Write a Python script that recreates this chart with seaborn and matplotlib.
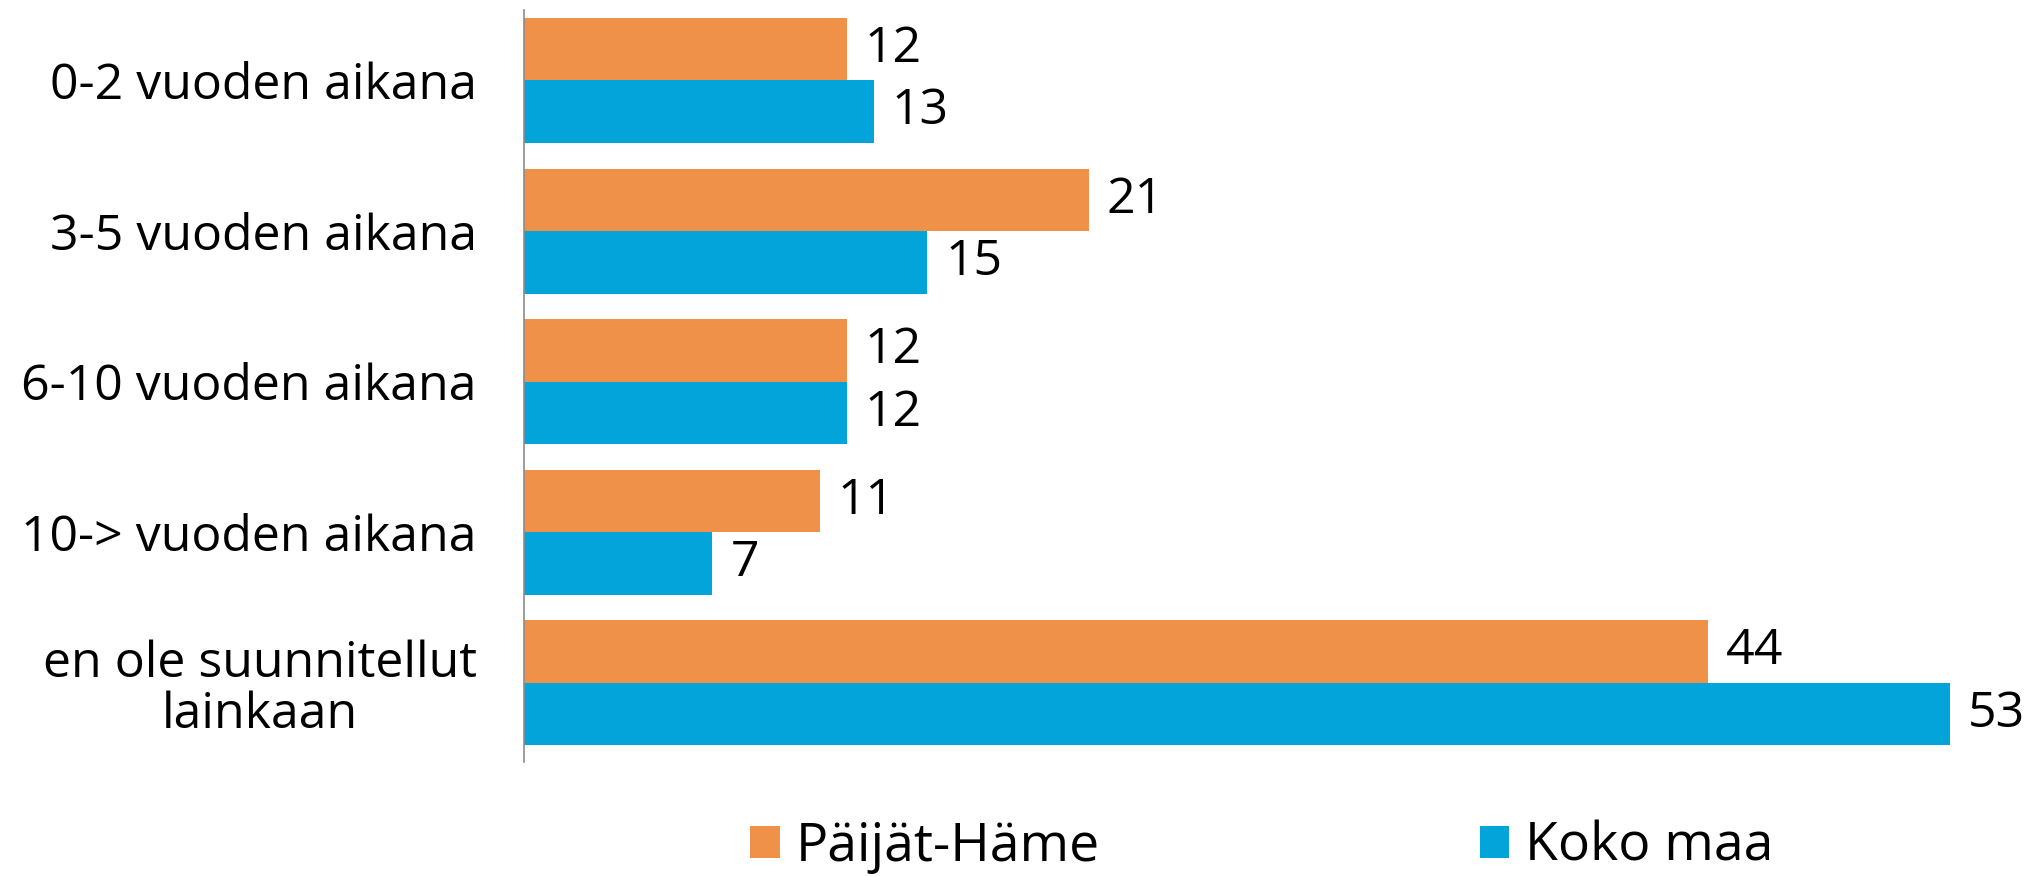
import pandas as pd
import numpy as np
import matplotlib
matplotlib.use("Agg")
import matplotlib.pyplot as plt
import seaborn as sns

# chart data
categories = ["0-2 vuoden aikana", "3-5 vuoden aikana", "6-10 vuoden aikana",
              "10-> vuoden aikana", "en ole suunnitellut\nlainkaan"]
series_names = ["Päijät-Häme", "Koko maa"]
paijat_hame = [12, 21, 12, 11, 44]
koko_maa = [13, 15, 12, 7, 53]

colors = ["#F0914A", "#02A4DA"]

df = pd.DataFrame({
    "category": categories * 2,
    "series": [series_names[0]] * len(categories) + [series_names[1]] * len(categories),
    "value": paijat_hame + koko_maa,
})

sns.set_style("white")
plt.rcParams["font.family"] = ["Open Sans", "DejaVu Sans"]
plt.rcParams["text.color"] = "black"
plt.rcParams["ytick.color"] = "black"

fig = plt.figure(figsize=(20.35, 8.77), dpi=100)
# left edge of axis ~524px, right ~1990px
ax = fig.add_axes([524 / 2035, 1 - 762 / 877, (1990 - 524) / 2035, 752 / 877])

sns.barplot(data=df, y="category", x="value", hue="series", orient="h",
            palette=colors, width=0.83, ax=ax, saturation=1, errorbar=None,
            linewidth=0)

for cont in ax.containers:
    ax.bar_label(cont, fmt="%d", padding=13, fontsize=36, color="black")

ax.set_xlim(0, 54.5)
ax.set_ylim(4.525, -0.468)
ax.set_xlabel("")
ax.set_ylabel("")
ax.set_xticks([])
ax.tick_params(axis="y", length=0, pad=34, labelsize=36, labelcolor="black")
for lbl in ax.get_yticklabels():
    lbl.set_multialignment("center")
    lbl.set_linespacing(1.05)

for s in ["top", "right", "bottom"]:
    ax.spines[s].set_visible(False)
ax.spines["left"].set_color("#8c8c8c")
ax.spines["left"].set_linewidth(1.2)

handles, labels = ax.get_legend_handles_labels()
ax.get_legend().remove()
fig.legend(handles, labels, loc="center", bbox_to_anchor=(1262 / 2035, 1 - 847 / 877),
           ncol=2, frameon=False, fontsize=38.5, handlelength=0.55, handleheight=0.55,
           handletextpad=0.3, columnspacing=7.1, borderaxespad=0)

fig.savefig("out.png", dpi=100)
